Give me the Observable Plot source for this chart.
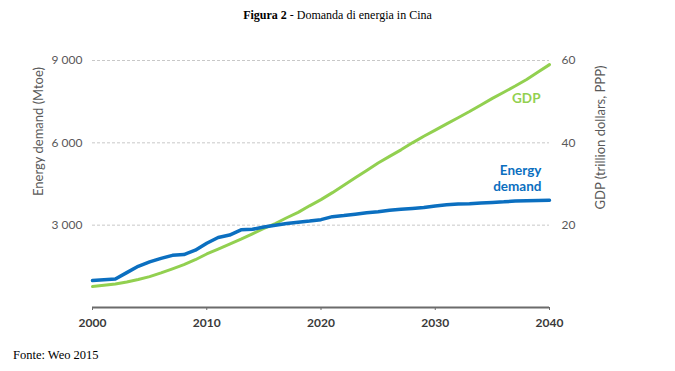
<!DOCTYPE html>
<html>
<head>
<meta charset="utf-8">
<script src="https://cdn.jsdelivr.net/npm/d3@7"></script>
<script src="https://cdn.jsdelivr.net/npm/@observablehq/plot@0.6"></script>
<style>
  html, body { margin: 0; padding: 0; background: #fff; }
  #title { font-family: "Liberation Serif", "Times New Roman", serif; font-size: 12px; text-align: center; height: 28px; line-height: 30px; color: #000; }
  #caption { font-family: "Liberation Serif", "Times New Roman", serif; font-size: 12.5px; padding-left: 13px; height: 31px; line-height: 30px; color: #000; }
  #chart svg { display: block; }
</style>
</head>
<body>
<div id="title"><b>Figura 2</b> - Domanda di energia in Cina</div>
<div id="chart"></div>
<div id="caption">Fonte: Weo 2015</div>
<script>
const years = d3.range(2000, 2041);
const energyDemand = [980, 1010, 1040, 1270, 1500, 1660, 1790, 1900, 1930, 2090,
  2340, 2550, 2640, 2830, 2850, 2930, 3000, 3060, 3110, 3150,
  3200, 3310, 3350, 3400, 3450, 3490, 3540, 3580, 3610, 3640,
  3700, 3740, 3770, 3780, 3810, 3830, 3850, 3880, 3890, 3900, 3910];
const gdp = [5.1, 5.4, 5.7, 6.2, 6.8, 7.5, 8.4, 9.4, 10.4, 11.6,
  13.0, 14.2, 15.4, 16.6, 17.9, 19.2, 20.4, 21.8, 23.1, 24.7,
  26.2, 27.9, 29.7, 31.5, 33.3, 35.1, 36.7, 38.3, 40.0, 41.6,
  43.1, 44.6, 46.1, 47.6, 49.2, 50.8, 52.3, 53.8, 55.4, 57.2, 59.0];
const xTicks = [2000, 2010, 2020, 2030, 2040];
const leftTicks = [3000, 6000, 9000];
const rightTicks = [20, 40, 60];
const gdpToEnergy = 9000 / 60;

const energyData = years.map((y, i) => ({year: y, value: energyDemand[i]}));
const gdpData = years.map((y, i) => ({year: y, value: gdp[i]}));
const last = years.length - 1;

const fmt = d => d3.format(",")(d).replace(/,/g, " ");
const axisFont = "Lato, 'Open Sans', sans-serif";

const chart = Plot.plot({
  width: 675,
  height: 312,
  marginLeft: 92,
  marginRight: 126,
  marginTop: 32,
  marginBottom: 33,
  style: {fontFamily: axisFont, fontSize: "12px", color: "#595959", background: "#fff"},
  x: {domain: [2000, 2040]},
  y: {domain: [0, 9000]},
  marks: [
    Plot.ruleY(leftTicks, {stroke: "#c8c8c8", strokeWidth: 1, strokeDasharray: "3,2"}),
    Plot.axisY(leftTicks, {anchor: "left", tickSize: 0, tickPadding: 10, tickFormat: fmt, label: null, fill: "#595959", fontSize: 12}),
    Plot.axisY(rightTicks.map(v => v * gdpToEnergy), {anchor: "right", tickSize: 0, tickPadding: 12, tickFormat: d => String(Math.round(d / gdpToEnergy)), label: null, fill: "#595959", fontSize: 12}),
    Plot.axisX(xTicks, {anchor: "bottom", tickSize: 3, tickPadding: 8, tickFormat: d => String(d), label: null, fill: "#3a3a3a", fontWeight: "bold", fontSize: 12, stroke: "#6b6b6b"}),
    Plot.ruleY([0], {stroke: "#6b6b6b", strokeWidth: 2}),
    Plot.line(gdpData, {x: "year", y: d => d.value * gdpToEnergy, stroke: "#92d050", strokeWidth: 3}),
    Plot.line(energyData, {x: "year", y: "value", stroke: "#0b6fc0", strokeWidth: 3.5}),
    Plot.text([gdpData[last]], {x: "year", y: d => d.value * gdpToEnergy, text: () => "GDP", textAnchor: "end", dx: -9, dy: 34, fill: "#92d050", fontWeight: "bold", fontSize: 13.5}),
    Plot.text([energyData[last]], {x: "year", y: "value", text: () => "Energy\ndemand", textAnchor: "end", lineAnchor: "bottom", dx: -8, dy: -9, lineHeight: 1.2, fill: "#0b6fc0", fontWeight: "bold", fontSize: 13.5}),
    Plot.text(["Energy demand (Mtoe)"], {frameAnchor: "top-left", rotate: -90, dx: -59, dy: 71, fill: "#595959", fontSize: 13, textAnchor: "middle"}),
    Plot.text(["GDP (trillion dollars, PPP)"], {frameAnchor: "top-right", rotate: -90, dx: 46, dy: 77, fill: "#595959", fontSize: 13, textAnchor: "middle"})
  ]
});
document.getElementById("chart").appendChild(chart);
</script>
</body>
</html>
